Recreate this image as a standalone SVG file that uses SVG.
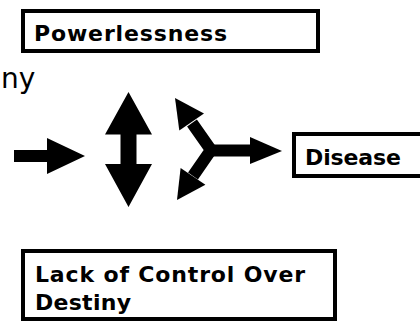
<svg xmlns="http://www.w3.org/2000/svg" width="420" height="322" viewBox="0 0 420 322">
<style>
.box{fill:#fff;stroke:#000;stroke-width:4}
.lbl{font-family:"DejaVu Sans","Verdana",sans-serif;font-weight:bold;font-size:22px;fill:#000}
.big{font-family:"DejaVu Sans","Verdana",sans-serif;font-size:28px;fill:#000}
.arr{fill:#000}
.shaft{stroke:#000;stroke-width:12;fill:none}
</style>
<rect width="420" height="322" fill="#fff"/>
<text class="big" x="1" y="88">ny</text>
<g id="powerlessness">
<rect class="box" x="23" y="11" width="295" height="40"/>
<text class="lbl" x="34" y="40.5" textLength="193" lengthAdjust="spacing">Powerlessness</text>
</g>
<g id="disease">
<rect class="box" x="294" y="134" width="140" height="42"/>
<text class="lbl" x="305" y="164.5" textLength="96" lengthAdjust="spacing">Disease</text>
</g>
<g id="lack-of-control">
<rect class="box" x="23" y="251" width="312" height="68"/>
<text class="lbl" x="35" y="281.5" textLength="270" lengthAdjust="spacing">Lack of Control Over</text>
<text class="lbl" x="35" y="310" textLength="96" lengthAdjust="spacing">Destiny</text>
</g>
<g id="connectors">
<polygon class="arr" points="14,150 47,150 47,138 85,156 47,174 47,162 14,162"/>
<polygon class="arr" points="128.5,92 152,134.5 136.5,134.5 136.5,164 152,164 128.5,207 105,164 120.5,164 120.5,134.5 105,134.5"/>
<polyline class="shaft" points="192,123 211,150 193,176" stroke-linejoin="miter"/>
<line class="shaft" x1="208" y1="150.5" x2="251" y2="150.5"/>
<polygon class="arr" points="250,137 282,151 250,164"/>
<polygon class="arr" points="175,98 204,113.4 179.3,130.6"/>
<polygon class="arr" points="177,200 180.6,168 205.4,184.8"/>
</g>
</svg>
